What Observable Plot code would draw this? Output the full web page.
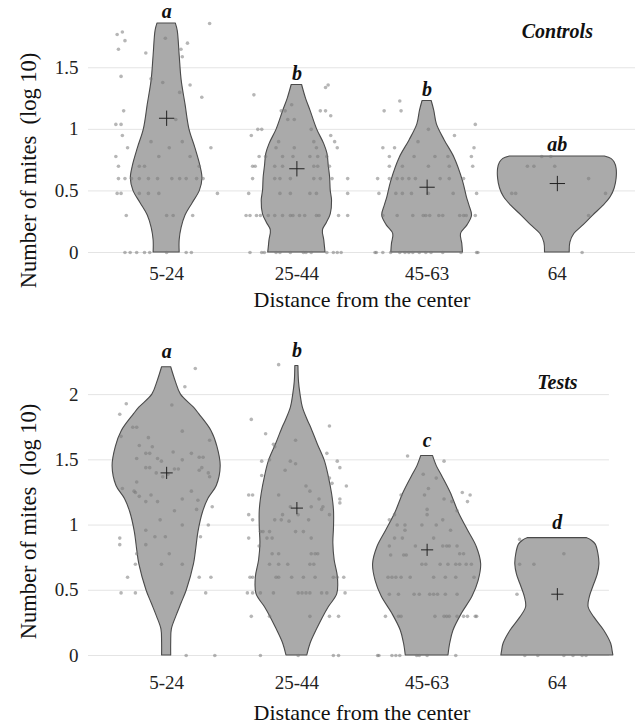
<!DOCTYPE html>
<html><head><meta charset="utf-8">
<script src="https://cdn.jsdelivr.net/npm/d3@7"></script>
<script src="https://cdn.jsdelivr.net/npm/@observablehq/plot@0.6"></script>
<style>
body{margin:0;background:#fff;}
#chart{width:635px;}
#chart svg{display:block;}
</style></head><body><div id="chart"></div>
<script>
const categories = ["5-24","25-44","45-63","64"];
const controlsMeans = [1.09, 0.68, 0.53, 0.56];
const testsMeans = [1.40, 1.13, 0.81, 0.47];
const controlsLetters = ["a","b","b","ab"];
const testsLetters = ["a","b","c","d"];
const controlsTicks = [0, 0.5, 1, 1.5];
const testsTicks = [0, 0.5, 1, 1.5, 2];

// violin profiles: [value, half-width in category units]
const ctrlViolin1 = [[1.86,0.07],[1.80,0.085],[1.6,0.10],[1.4,0.115],[1.2,0.145],[1.0,0.175],[0.85,0.22],[0.7,0.26],[0.6,0.275],[0.5,0.255],[0.4,0.20],[0.3,0.145],[0.2,0.115],[0.1,0.10],[0,0.10]];
const ctrlViolin2 = [[1.36,0.04],[1.25,0.07],[1.15,0.105],[1.0,0.155],[0.88,0.21],[0.8,0.235],[0.7,0.245],[0.61,0.255],[0.5,0.26],[0.42,0.27],[0.31,0.26],[0.24,0.23],[0.18,0.20],[0.1,0.21],[0.05,0.215],[0,0.22]];
const ctrlViolin3 = [[1.23,0.035],[1.15,0.055],[1.04,0.075],[0.91,0.135],[0.77,0.21],[0.58,0.275],[0.45,0.305],[0.38,0.325],[0.30,0.345],[0.22,0.31],[0.15,0.26],[0.07,0.27],[0,0.275]];
const ctrlViolin4 = [[0.78,0.365],[0.76,0.415],[0.73,0.44],[0.68,0.455],[0.6,0.455],[0.52,0.44],[0.45,0.41],[0.38,0.355],[0.3,0.275],[0.22,0.20],[0.15,0.13],[0.08,0.10],[0,0.095]];
const testViolin1 = [[2.21,0.035],[2.1,0.07],[2.0,0.11],[1.9,0.21],[1.85,0.25],[1.72,0.345],[1.6,0.39],[1.45,0.415],[1.3,0.385],[1.2,0.32],[1.1,0.28],[0.95,0.245],[0.8,0.225],[0.7,0.21],[0.5,0.155],[0.4,0.115],[0.3,0.075],[0.2,0.04],[0.1,0.035],[0,0.035]];
const testViolin2 = [[2.22,0.012],[2.1,0.016],[2.0,0.028],[1.9,0.046],[1.8,0.085],[1.75,0.108],[1.62,0.16],[1.49,0.215],[1.37,0.245],[1.24,0.27],[1.11,0.285],[0.98,0.285],[0.86,0.28],[0.73,0.29],[0.6,0.315],[0.47,0.31],[0.37,0.245],[0.29,0.2],[0.21,0.16],[0.09,0.105],[0,0.08]];
const testViolin3 = [[1.53,0.045],[1.45,0.075],[1.38,0.113],[1.25,0.18],[1.09,0.245],[0.96,0.313],[0.83,0.382],[0.7,0.415],[0.57,0.395],[0.45,0.348],[0.32,0.267],[0.19,0.202],[0.09,0.177],[0,0.164]];
const testViolin4 = [[0.9,0.225],[0.88,0.265],[0.85,0.295],[0.78,0.315],[0.7,0.323],[0.62,0.31],[0.55,0.285],[0.45,0.25],[0.37,0.24],[0.29,0.285],[0.19,0.36],[0.09,0.413],[0.03,0.425],[0,0.43]];

// jittered observations: [offset from category centre, value]
const ctrlPts1 = [[-0.38,1.77],[-0.34,1.79],[-0.32,1.72],[-0.37,1.65],[-0.35,1.43],[-0.33,1.15],[-0.39,1.04],[-0.35,1.04],[-0.34,0.95],[-0.30,0.85],[-0.39,0.78],[-0.37,0.70],[-0.37,0.60],[-0.32,0.60],[-0.27,0.60],[-0.38,0.48],[-0.35,0.48],[-0.31,0.30],[-0.32,0],[-0.28,0],[-0.23,0],[-0.17,0],[-0.13,0],[-0.16,1.62],[-0.12,1.41],[-0.01,1.74],[-0.03,1.38],[-0.06,0.78],[0.02,0.85],[-0.12,0.90],[-0.21,0.70],[-0.17,0.70],[-0.21,0.60],[-0.14,0.60],[-0.07,0.60],[0.04,0.60],[0.10,0.60],[0.15,0.60],[0.23,0.60],[0.28,0.60],[-0.21,0.48],[-0.14,0.48],[-0.06,0.48],[0,0.30],[0.05,0.30],[0.07,1.08],[0.11,1.65],[0.12,1.59],[0.16,1.70],[0.18,1.36],[0.10,1.30],[0.27,1.26],[0.33,1.86],[0.12,0.90],[0.18,0.78],[0.25,0.70],[0.34,0.85],[0.39,0.48],[0.20,0.30],[0.15,0],[0.19,0],[0,0]];
const ctrlPts2 = [[-0.33,1.28],[0.24,1.36],[0.22,1.34],[-0.04,1.20],[-0.12,1.15],[-0.09,1.15],[0.18,1.15],[0.22,1.15],[0.26,1.11],[-0.07,1.08],[-0.02,1.08],[-0.30,1.0],[-0.27,1.0],[0.11,1.0],[-0.35,0.95],[0.26,0.95],[0.29,0.90],[-0.14,0.90],[0.13,0.90],[0.31,0.85],[-0.16,0.85],[-0.02,0.85],[0.15,0.85],[-0.29,0.78],[-0.24,0.78],[-0.11,0.78],[-0.03,0.78],[0.10,0.78],[0.16,0.78],[0.23,0.78],[-0.34,0.70],[-0.32,0.70],[-0.17,0.70],[-0.11,0.70],[0.13,0.70],[0.16,0.70],[0.25,0.70],[-0.34,0.60],[-0.17,0.60],[-0.13,0.60],[-0.05,0.60],[0.13,0.60],[0.18,0.60],[0.27,0.60],[0.39,0.60],[-0.37,0.48],[-0.13,0.48],[-0.05,0.48],[0.10,0.48],[0.15,0.48],[0.39,0.48],[-0.39,0.30],[-0.36,0.30],[-0.31,0.30],[-0.28,0.30],[-0.22,0.30],[-0.17,0.30],[-0.11,0.30],[-0.05,0.30],[-0.03,0.30],[0.02,0.30],[0.06,0.30],[0.15,0.30],[0.17,0.30],[0.32,0.30],[0.39,0.30],[-0.36,0],[-0.27,0],[-0.25,0],[-0.16,0],[-0.13,0],[-0.05,0],[0.05,0],[0.07,0],[0.11,0],[0.23,0],[0.28,0],[0.31,0],[0.34,0]];
const ctrlPts3 = [[-0.21,1.23],[-0.33,1.15],[-0.20,1.15],[0.37,1.04],[0.01,1.0],[0.21,0.95],[-0.07,0.90],[-0.34,0.85],[-0.25,0.85],[0.36,0.85],[-0.29,0.78],[-0.10,0.78],[0.06,0.78],[0.16,0.78],[0.34,0.78],[-0.29,0.70],[-0.19,0.70],[0.01,0.70],[0.17,0.70],[0.35,0.70],[-0.38,0.60],[-0.29,0.60],[-0.23,0.60],[-0.19,0.60],[-0.14,0.60],[-0.09,0.60],[0.10,0.60],[0.17,0.60],[0.28,0.60],[-0.37,0.48],[-0.24,0.48],[-0.19,0.48],[-0.12,0.48],[0.01,0.48],[0.20,0.48],[0.38,0.48],[-0.34,0.30],[-0.23,0.30],[-0.11,0.30],[-0.03,0.30],[-0.01,0.30],[0.02,0.30],[0.09,0.30],[0.12,0.30],[0.25,0.30],[0.28,0.30],[0.30,0.30],[0.37,0.30],[-0.40,0],[-0.39,0],[-0.34,0],[-0.28,0],[-0.21,0],[-0.17,0],[-0.14,0],[-0.11,0],[-0.06,0],[-0.01,0],[0.03,0],[0.12,0],[0.26,0],[0.38,0],[0.39,0]];
const ctrlPts4 = [[-0.23,0.70],[-0.18,0.70],[-0.02,0.70],[-0.12,0.78],[-0.05,0.78],[0.24,0.60],[-0.35,0.48],[-0.32,0.48],[0.37,0.48],[0.24,0.30],[0.19,0]];
const testPts1 = [[0.22,2.20],[0.14,2.06],[0.04,1.92],[-0.31,1.93],[-0.36,1.85],[-0.35,1.68],[-0.26,1.75],[-0.23,1.75],[0.12,1.72],[-0.14,1.67],[-0.11,1.60],[-0.21,1.61],[-0.23,1.51],[-0.16,1.55],[-0.13,1.55],[-0.07,1.51],[-0.04,1.49],[0.05,1.56],[0.12,1.50],[0.19,1.55],[0.25,1.52],[0.28,1.52],[0.33,1.65],[0.27,1.44],[0.25,1.42],[0.32,1.40],[0.33,1.37],[0.06,1.43],[0.09,1.43],[-0.16,1.44],[-0.13,1.44],[-0.08,1.40],[-0.03,1.37],[0.01,1.39],[-0.23,1.33],[-0.34,1.28],[-0.25,1.26],[-0.24,1.25],[-0.21,1.22],[-0.16,1.18],[-0.12,1.23],[-0.07,1.18],[0.06,1.11],[0.12,1.20],[0.19,1.26],[0.24,1.19],[0.23,1.12],[0.35,1.14],[0.32,1.0],[0.12,1.0],[-0.05,1.04],[-0.16,0.96],[-0.09,0.91],[-0.01,0.91],[0.26,0.91],[-0.36,0.90],[-0.36,0.85],[-0.16,0.85],[-0.23,0.78],[0.02,0.78],[-0.24,0.70],[-0.04,0.70],[0.12,0.70],[-0.30,0.60],[0.25,0.60],[0.34,0.60],[-0.35,0.48],[-0.24,0.48],[0.04,0.48],[0.30,0.48],[0.15,0],[0.37,0]];
const testPts2 = [[-0.14,2.23],[-0.35,1.81],[0.25,1.76],[-0.24,1.70],[-0.18,1.62],[-0.17,1.60],[-0.01,1.65],[-0.27,1.49],[-0.21,1.50],[0.23,1.55],[0.31,1.49],[0.33,1.44],[-0.05,1.49],[-0.01,1.47],[-0.09,1.42],[-0.27,1.38],[0.25,1.36],[0.27,1.32],[0.38,1.30],[0.07,1.30],[0.10,1.26],[-0.37,1.23],[-0.34,1.23],[-0.14,1.23],[0.17,1.20],[0.33,1.20],[0.33,1.17],[-0.05,1.14],[0.11,1.14],[0.20,1.14],[0.19,1.12],[0.01,1.08],[-0.37,1.08],[-0.34,1.04],[-0.17,1.04],[-0.12,1.04],[-0.06,1.03],[-0.11,1.08],[0.09,1.04],[0.25,1.08],[-0.28,0.95],[-0.26,0.95],[-0.21,0.95],[-0.01,0.95],[0.05,0.95],[-0.37,0.90],[-0.23,0.90],[-0.19,0.90],[0.11,0.90],[-0.29,0.84],[-0.19,0.78],[-0.14,0.78],[0.11,0.78],[0.14,0.78],[0.16,0.78],[-0.21,0.70],[-0.14,0.70],[-0.07,0.70],[0.10,0.70],[0.13,0.70],[-0.36,0.60],[-0.34,0.60],[-0.16,0.60],[-0.14,0.60],[-0.04,0.60],[0.05,0.60],[0.14,0.60],[0.28,0.60],[0.31,0.60],[0.36,0.60],[-0.38,0.48],[-0.34,0.48],[-0.28,0.48],[-0.18,0.48],[0.01,0.48],[0.04,0.48],[0.07,0.48],[0.10,0.48],[0.19,0.48],[0.23,0.48],[0.37,0.48],[-0.35,0.30],[-0.21,0.30],[0.10,0.30],[0.25,0.30],[0.32,0.30],[-0.28,0],[0.01,0],[0.28,0],[0.32,0]];
const testPts3 = [[-0.15,1.53],[0.13,1.49],[-0.03,1.39],[0.07,1.36],[0.01,1.28],[-0.20,1.23],[0.27,1.25],[0.33,1.23],[-0.02,1.23],[0.13,1.20],[0.31,1.18],[0.19,1.18],[0.00,1.12],[0.00,1.08],[0.23,1.11],[-0.25,1.08],[-0.29,1.04],[0.12,1.04],[-0.23,1.0],[-0.17,1.0],[-0.04,1.0],[0.07,1.0],[-0.17,0.96],[0.18,0.96],[-0.25,0.90],[-0.19,0.90],[0.05,0.90],[-0.29,0.84],[-0.09,0.84],[0.12,0.84],[0.15,0.84],[0.17,0.84],[0.23,0.84],[-0.28,0.77],[-0.18,0.77],[-0.16,0.77],[0.25,0.78],[0.28,0.78],[-0.04,0.70],[-0.01,0.70],[0.10,0.70],[0.16,0.70],[0.22,0.70],[0.25,0.70],[0.30,0.70],[0.34,0.70],[-0.30,0.60],[-0.27,0.60],[-0.24,0.60],[-0.20,0.60],[-0.13,0.60],[0.05,0.60],[0.14,0.60],[0.22,0.60],[0.36,0.60],[-0.29,0.47],[-0.22,0.47],[-0.10,0.47],[-0.06,0.47],[0.02,0.47],[0.05,0.47],[0.08,0.47],[0.14,0.47],[0.23,0.47],[-0.32,0.30],[-0.22,0.30],[-0.20,0.30],[0.06,0.30],[0.13,0.30],[0.15,0.30],[0.17,0.30],[0.23,0.30],[0.28,0.30],[0.31,0.30],[0.37,0.30],[0.38,0.30],[-0.38,0],[-0.37,0],[-0.27,0],[-0.24,0],[-0.21,0],[-0.08,0],[-0.06,0],[0.00,0],[0.22,0]];
const testPts4 = [[-0.29,0.89],[0.05,0.78],[-0.29,0.70],[-0.18,0.70],[-0.31,0.47],[-0.25,0],[-0.15,0],[0.05,0],[0.12,0],[0.19,0],[0.22,0]];

const serif = "Liberation Serif, DejaVu Serif, serif";

function panel(cfg) {
  const violinRows = cfg.violins.flatMap((prof, i) =>
    prof.map(([v, hw]) => ({g: categories[i], y: v, x1: i + 1 - hw, x2: i + 1 + hw})));
  const pointRows = cfg.points.flatMap((pts, i) =>
    pts.map(([off, v]) => ({x: i + 1 + off, y: v})));
  const tops = cfg.violins.map(p => d3.max(p, d => d[0]));
  const bi = {fontFamily: serif, fontSize: 20, fontWeight: "bold", fontStyle: "italic", fill: "#111"};
  return Plot.plot({
    width: 635,
    height: cfg.height,
    marginLeft: 88,
    marginRight: 0,
    marginTop: cfg.marginTop,
    marginBottom: cfg.marginBottom,
    style: {fontFamily: serif, background: "#fff", color: "#222"},
    x: {domain: [0.4, 4.6], axis: null},
    y: {domain: cfg.yDomain, axis: null},
    marks: [
      Plot.ruleY(cfg.ticks, {x1: 0.4, x2: cfg.gridEnd, stroke: "#e4e4e4", strokeWidth: 1}),
      Plot.axisY({ticks: cfg.ticks, tickFormat: d => String(d), tickSize: 0, tickPadding: 10, fontSize: 19, fontFamily: serif, label: null, fill: "#222"}),
      Plot.axisX({ticks: [1, 2, 3, 4], tickFormat: d => categories[d - 1], tickSize: 0, tickPadding: cfg.xPad, fontSize: 19, fontFamily: serif, label: null, fill: "#222"}),
      Plot.areaX(violinRows, {y: "y", x1: "x1", x2: "x2", z: "g", curve: "catmull-rom", fill: "#aaaaaa", stroke: "#4a4a4a", strokeWidth: 1.1}),
      Plot.dot(pointRows, {x: "x", y: "y", r: 1.8, fill: "#7a7a7a", fillOpacity: 0.55}),
      Plot.dot(cfg.means, {x: (d, i) => i + 1, y: d => d, symbol: "plus", r: cfg.plusR, stroke: "#222", strokeWidth: 1}),
      Plot.text(cfg.letters, {...bi, x: (d, i) => i + 1, y: (d, i) => tops[i], text: d => d, dy: cfg.letterDy, lineAnchor: "bottom"}),
      Plot.text([cfg.title], {...bi, x: () => 4, frameAnchor: "top", dy: cfg.titleDy, lineAnchor: "middle", text: d => d}),
      Plot.text(["Number of mites\u00a0 (log 10)"], {frameAnchor: "left", textAnchor: "middle", lineAnchor: "middle", dx: -60, dy: cfg.yTitleDy, rotate: -90, text: d => d, fontFamily: serif, fontSize: 22.5, fill: "#111"}),
      Plot.text(["Distance from the center"], {frameAnchor: "bottom", lineAnchor: "middle", dy: cfg.xTitleDy, text: d => d, fontFamily: serif, fontSize: 22, fill: "#111"})
    ]
  });
}

const chart = document.getElementById("chart");
chart.append(panel({
  height: 330, marginTop: 18, marginBottom: 78, yDomain: [0, 1.9], ticks: controlsTicks, gridEnd: 4.6,
  violins: [ctrlViolin1, ctrlViolin2, ctrlViolin3, ctrlViolin4],
  points: [ctrlPts1, ctrlPts2, ctrlPts3, ctrlPts4],
  means: controlsMeans, letters: controlsLetters, title: "Controls",
  xPad: 14, letterDy: -5, titleDy: 13, plusR: 5, yTitleDy: 35, xTitleDy: 47
}));
chart.append(panel({
  height: 394, marginTop: 25, marginBottom: 69, yDomain: [0, 2.3], ticks: testsTicks, gridEnd: 4.4,
  violins: [testViolin1, testViolin2, testViolin3, testViolin4],
  points: [testPts1, testPts2, testPts3, testPts4],
  means: testsMeans, letters: testsLetters, title: "Tests",
  xPad: 20, letterDy: -9, titleDy: 27, plusR: 4, yTitleDy: 16, xTitleDy: 57
}));
</script>
</body></html>
